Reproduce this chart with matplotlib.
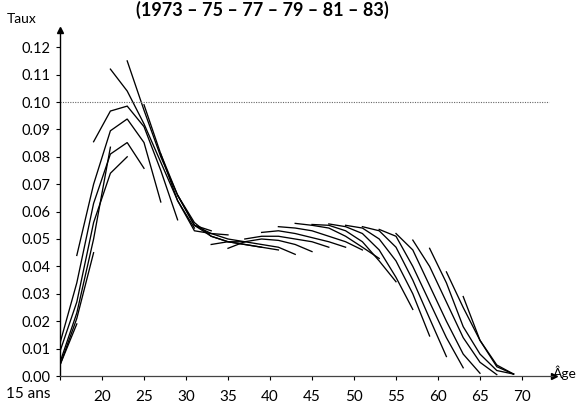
import matplotlib
matplotlib.use("Agg")
import matplotlib.pyplot as plt

# Data: activity rate by age, for each survey year
ages = [15, 17, 19, 21, 23, 25, 27, 29, 31, 33, 35, 37, 39, 41, 43, 45, 47, 49,
        51, 53, 55, 57, 59, 61, 63, 65, 67, 69]
years = [1973, 1975, 1977, 1979, 1981, 1983]
r1973 = [0.012, 0.044, 0.0855, 0.112, 0.115, 0.099, 0.081, 0.066, 0.055, 0.048, 0.0466, 0.050,
         0.0524, 0.0545, 0.0557, 0.0553, 0.0555, 0.055, 0.0545, 0.0535, 0.052, 0.0496, 0.0466,
         0.038, 0.029, None, None, None]
r1975 = [0.009, 0.034, 0.070, 0.0967, 0.104, 0.097, 0.081, 0.066, 0.056, 0.051, 0.049, 0.049,
         0.051, 0.053, 0.054, 0.055, 0.055, 0.0545, 0.054, 0.053, 0.051, 0.046, 0.040, 0.034,
         0.025, 0.013, None, None]
r1977 = [0.005, 0.027, 0.063, 0.0895, 0.0985, 0.092, 0.080, 0.064, 0.055, 0.051, 0.049, 0.049,
         0.050, 0.051, 0.052, 0.053, 0.054, 0.053, 0.052, 0.050, 0.047, 0.040, 0.033, 0.027,
         0.018, 0.013, 0.004, None]
r1979 = [0.004, 0.023, 0.056, 0.081, 0.0938, 0.091, 0.078, 0.066, 0.053, 0.052, 0.049, 0.048,
         0.048, 0.0495, 0.050, 0.0505, 0.051, 0.051, 0.049, 0.046, 0.042, 0.035, 0.027, 0.020,
         0.014, 0.008, 0.0034, 0.0007]
r1981 = [0.004, 0.021, 0.050, 0.074, 0.0852, 0.0852, 0.075, 0.064, 0.055, 0.052, 0.050, 0.048,
         0.047, 0.047, 0.048, 0.049, 0.049, 0.049, 0.047, 0.042, 0.036, 0.030, 0.021, 0.014,
         0.008, 0.005, 0.002, 0.0007]
r1983 = [0.004, 0.019, 0.045, 0.0835, 0.080, 0.0758, 0.0635, 0.057, 0.054, 0.053, 0.0515, 0.049,
         0.047, 0.046, 0.0444, 0.0454, 0.047, 0.047, 0.046, 0.0429, 0.0344, 0.0243, 0.0146,
         0.0071, 0.003, 0.001, 0.0005, 0.0007]
rates = [r1973, r1975, r1977, r1979, r1981, r1983]
ref_level = 0.10
xtick_vals = [15, 20, 25, 30, 35, 40, 45, 50, 55, 60, 65, 70]
xtick_labels = ["", "20", "25", "30", "35", "40", "45", "50", "55", "60", "65", "70"]
ytick_vals = [0.00, 0.01, 0.02, 0.03, 0.04, 0.05, 0.06, 0.07, 0.08, 0.09, 0.10, 0.11, 0.12]

plt.rcParams['font.family'] = ['Lato', 'DejaVu Sans']

W, H = 579, 404
fig = plt.figure(figsize=(W / 100, H / 100), dpi=100)
ax = fig.add_axes([60 / W, 28 / H, 494 / W, 346 / H])
ax.set_xlim(15, 15 + 494 / 8.4)
ax.set_ylim(0, 346 / 2740)

# cohort lines: follow each generation across the survey years
for start in range(5, 65, 2):
    xs, ys = [], []
    for k, yr in enumerate(years):
        age = start + 2 * k
        if age in ages:
            v = rates[k][ages.index(age)]
            if v is not None:
                xs.append(age)
                ys.append(v)
    if len(xs) >= 2:
        ax.plot(xs, ys, color="black", lw=0.95, solid_joinstyle="miter")

ax.axhline(ref_level, xmin=0, xmax=0.99, color="#666666", lw=0.8, ls=(0, (1, 1.2)))

for s in ["top", "right"]:
    ax.spines[s].set_visible(False)
ax.spines["left"].set_linewidth(1.0)
ax.spines["bottom"].set_linewidth(0.9)
ax.spines["bottom"].set_color("#444444")
ax.plot(0, 1, "^", color="black", ms=5, transform=ax.transAxes, clip_on=False)
ax.plot(1, 0, ">", color="black", ms=5, transform=ax.transAxes, clip_on=False)

ax.set_xticks(xtick_vals)
ax.set_xticklabels(xtick_labels, fontsize=11)
ax.set_yticks(ytick_vals)
ax.set_yticklabels([f"{v:.2f}" for v in ytick_vals], fontsize=10.5)
ax.tick_params(axis="y", direction="out", length=3, width=0.8, pad=4)
ax.tick_params(axis="x", direction="out", length=3, width=0.8, pad=7)

fig.text(50 / W, 1 - 394 / H, "15 ans", ha="right", va="center", fontsize=11)
fig.text(22 / W, 1 - 19 / H, "Taux", ha="center", va="center", fontsize=10)
fig.text(577 / W, 1 - 373 / H, "Âge", ha="right", va="center", fontsize=10)
fig.text(262 / W, 1 - 1 / H, "(1973 – 75 – 77 – 79 – 81 – 83)", ha="center", va="top",
         fontsize=13, fontweight="bold")

fig.savefig("out.png", dpi=100)
